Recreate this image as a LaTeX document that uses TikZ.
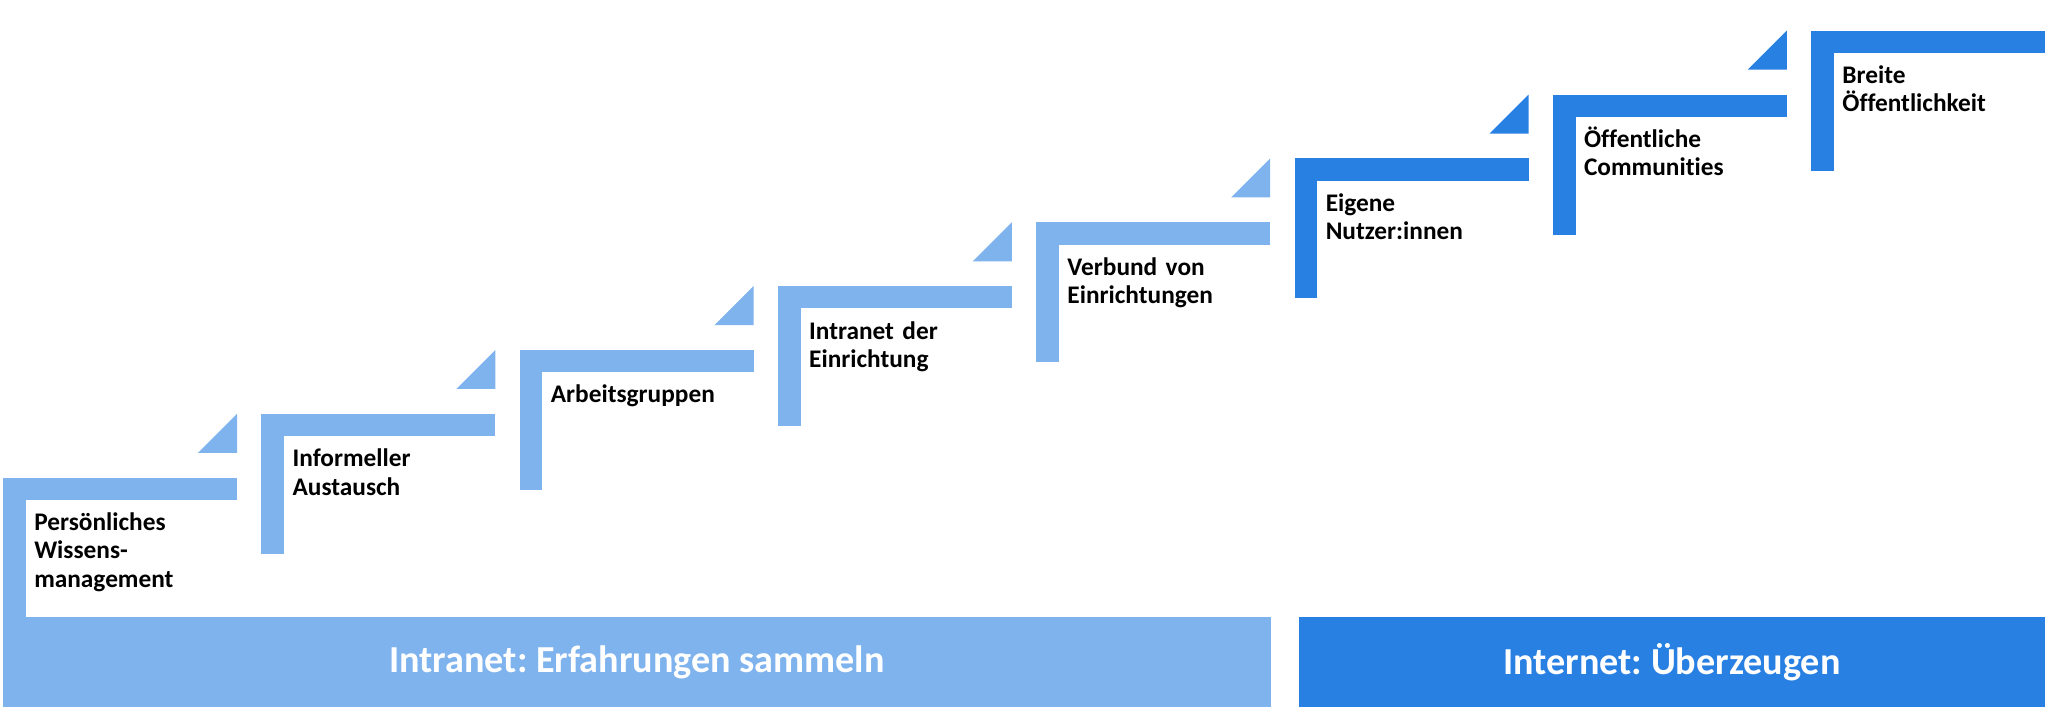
\documentclass[tikz,border=0pt]{standalone}
\usepackage{fontspec}
\setmainfont{Carlito}[Ligatures={NoCommon}]
\usetikzlibrary{positioning}
\definecolor{hellblau}{HTML}{7FB3EE}
\definecolor{dunkelblau}{HTML}{2980E3}
\frenchspacing

\begin{document}
\begin{tikzpicture}[
  x=0.75pt, y=-0.75pt,
  lbl/.style={anchor=base west, inner sep=0pt, text width=170pt, align=left, font=\fontsize{19}{21.2}\selectfont\bfseries},
  band/.style={minimum height=67.5pt, inner sep=0pt, text=white, font=\fontsize{28.6}{30}\selectfont\bfseries}
]
\useasboundingbox (0,0) rectangle (2048,716);
% Stufen
\foreach \txt [count=\i from 0] in {{Persönliches\\Wissens-\\management},{Informeller\\Austausch},{Arbeitsgruppen},{Intranet der\\Einrichtung},{Verbund von\\Einrichtungen},{Eigene\\Nutzer:innen},{Öffentliche\\Communities},{Breite\\Öffentlichkeit}}{
  \pgfmathsetmacro\L{3+258.3*\i}
  \pgfmathsetmacro\T{477.7-63.86*\i}
  \pgfmathsetmacro\B{\i==0 ? 617 : \T+140}
  \ifnum\i<5 \colorlet{stufe}{hellblau}\else\colorlet{stufe}{dunkelblau}\fi
  \fill[stufe] (\L,\T) rectangle ++(234,22.3);
  \fill[stufe] (\L,\T) rectangle (\L+22.7,\B);
  \ifnum\i<7
    \fill[stufe] (\L+234,\T-63.86) -- ++(0,39) -- ++(-39,0) -- cycle;
  \fi
  \node[lbl] (s\i) at (\L+31,\T+53) {\txt};
}
% Bereiche
\node[band, fill=hellblau, minimum width=951pt] (intra) at (637,662) {Intranet: Erfahrungen sammeln};
\node[band, fill=dunkelblau, minimum width=559.5pt] (inter) at (1672,662) {Internet: Überzeugen};
\end{tikzpicture}
\end{document}
